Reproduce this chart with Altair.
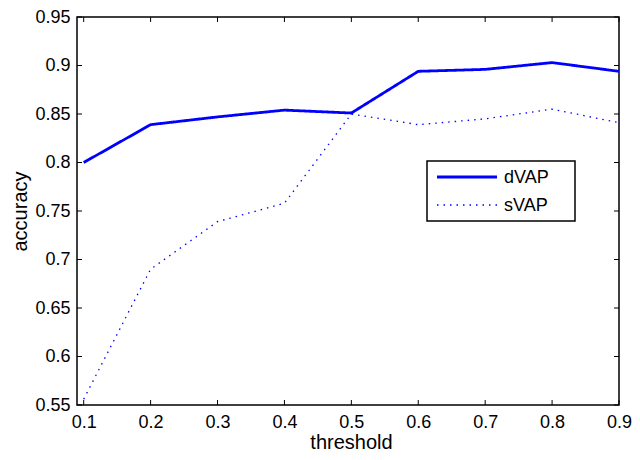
import altair as alt
import pandas as pd

thresholds = [0.1, 0.2, 0.3, 0.4, 0.5, 0.6, 0.7, 0.8, 0.9]
dvap = [0.800, 0.839, 0.847, 0.854, 0.851, 0.894, 0.896, 0.903, 0.894]
svap = [0.556, 0.690, 0.739, 0.758, 0.850, 0.839, 0.845, 0.855, 0.841]
series_names = ["dVAP", "sVAP"]
x_ticks = [0.1, 0.2, 0.3, 0.4, 0.5, 0.6, 0.7, 0.8, 0.9]
y_ticks = [0.55, 0.6, 0.65, 0.7, 0.75, 0.8, 0.85, 0.9, 0.95]

W, H = 542, 388
FONT = "Liberation Sans"
BLUE = "#0000ff"

df = pd.DataFrame({
    "threshold": thresholds * 2,
    "accuracy": dvap + svap,
    "series": [series_names[0]] * len(thresholds) + [series_names[1]] * len(thresholds),
})
xt = pd.DataFrame({"v": x_ticks})
yt = pd.DataFrame({"v": y_ticks})
leg = pd.DataFrame({"series": series_names})

xscale = alt.Scale(domain=[0.09, 0.9], nice=False, zero=False)
yscale = alt.Scale(domain=[0.55, 0.95], nice=False, zero=False)

xaxis = alt.Axis(values=x_ticks, format="~g", ticks=False, tickSize=0, domain=False, grid=False,
                 labelFont=FONT, labelFontSize=18, labelColor="black", labelPadding=8,
                 title="threshold", titleFont=FONT, titleFontSize=20, titleFontWeight="normal",
                 titleColor="black", titleX=274, titleY=43, titleBaseline="alphabetic",
                 titleAlign="center", labelFlush=False)
yaxis = alt.Axis(values=y_ticks, format="~g", ticks=False, tickSize=0, domain=False, grid=False,
                 labelFont=FONT, labelFontSize=18, labelColor="black", labelPadding=7,
                 title="accuracy", titleFont=FONT, titleFontSize=20, titleFontWeight="normal",
                 titleColor="black", titleX=-51, titleY=194, titleBaseline="alphabetic",
                 titleAlign="center", titleAngle=-90, labelFlush=False)

lines = alt.Chart(df).mark_line().encode(
    x=alt.X("threshold:Q", scale=xscale, axis=xaxis),
    y=alt.Y("accuracy:Q", scale=yscale, axis=yaxis),
    color=alt.Color("series:N", scale=alt.Scale(domain=series_names, range=[BLUE, BLUE]), legend=None),
    strokeDash=alt.StrokeDash("series:N", scale=alt.Scale(domain=series_names, range=[[1, 0], [1.5, 5]]), legend=None),
    strokeWidth=alt.StrokeWidth("series:N", scale=alt.Scale(domain=series_names, range=[2.8, 1.3]), legend=None),
)

tick_len = 5
xt_bottom = alt.Chart(xt).mark_rule(color="black", strokeWidth=1).encode(
    x=alt.X("v:Q", scale=xscale), y=alt.value(H), y2=alt.value(H - tick_len))
xt_top = alt.Chart(xt).mark_rule(color="black", strokeWidth=1).encode(
    x=alt.X("v:Q", scale=xscale), y=alt.value(0), y2=alt.value(tick_len))
yt_left = alt.Chart(yt).mark_rule(color="black", strokeWidth=1).encode(
    y=alt.Y("v:Q", scale=yscale), x=alt.value(0), x2=alt.value(tick_len))
yt_right = alt.Chart(yt).mark_rule(color="black", strokeWidth=1).encode(
    y=alt.Y("v:Q", scale=yscale), x=alt.value(W), x2=alt.value(W - tick_len))

# legend (manual, MATLAB-style box)
LX0, LX1, LY0, LY1 = 350, 498, 144, 204
box = alt.Chart(pd.DataFrame({"series": ["box"]})).mark_rect(
    fill="white", stroke="black", strokeWidth=1.5).encode(
    x=alt.value(LX0), x2=alt.value(LX1), y=alt.value(LY0), y2=alt.value(LY1))
rows_y = [160, 188]
leg_layers = []
dashes = [[1, 0], [1.5, 5]]
widths = [2.8, 1.3]
for i, name in enumerate(series_names):
    d = leg[leg["series"] == name]
    leg_layers.append(alt.Chart(d).mark_rule(color=BLUE, strokeWidth=widths[i], strokeDash=dashes[i]).encode(
        x=alt.value(360), x2=alt.value(420), y=alt.value(rows_y[i])))
    leg_layers.append(alt.Chart(d).mark_text(align="left", baseline="middle", font=FONT, fontSize=18,
                                             color="black").encode(
        x=alt.value(427), y=alt.value(rows_y[i] + 1), text="series:N"))

chart = alt.layer(lines, xt_bottom, xt_top, yt_left, yt_right, box, *leg_layers).properties(
    width=W, height=H,
    autosize=alt.AutoSizeParams(type="none"),
    padding={"left": 69, "top": 9, "right": 13, "bottom": 47},
    background="white",
).configure_view(stroke="black", strokeWidth=1.5)

chart.save("out.html", embed_options={"renderer": "svg", "actions": False})
